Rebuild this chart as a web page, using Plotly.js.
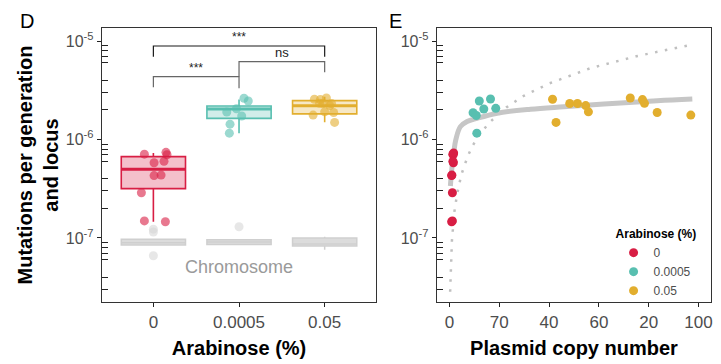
<!DOCTYPE html>
<html><head><meta charset="utf-8">
<script src="https://cdn.plot.ly/plotly-3.0.1.min.js"></script>
<style>html,body{margin:0;padding:0;background:#fff}#chart{width:721px;height:364px}</style>
</head><body><div id="chart"></div>
<script>
// ---------------- data ----------------
const categories = ['0', '0.0005', '0.05'];
const catPos = [0, 1, 2];

// Panel D - plasmid locus replicate rates, with horizontal jitter
const redRateD  = [7.1e-7, 7.4e-7, 7.0e-7, 5.8e-7, 6.0e-7, 4.3e-7, 4.35e-7, 2.88e-7, 1.49e-7, 1.46e-7];
const redJitD   = [-0.105, 0.147, 0.159, 0.008, 0.124, 0.008, 0.09, -0.14, -0.105, 0.14];
const tealRateD = [2.62e-6, 2.46e-6, 1.9e-6, 1.73e-6, 1.43e-6, 1.16e-6, 2.05e-6];
const tealJitD  = [0.058, 0.108, -0.143, 0.031, -0.105, -0.113, -0.03];
const goldRateD = [2.64e-6, 2.56e-6, 2.54e-6, 2.33e-6, 2.32e-6, 2.32e-6, 2.21e-6, 1.91e-6, 1.88e-6, 1.77e-6, 1.49e-6];
const goldJitD  = [0.02, -0.12, -0.05, -0.06, 0.08, -0.02, 0.06, 0.0, 0.105, -0.135, 0.116];

// Panel D - box statistics (plasmid)
const boxQ1     = [3.17e-7, 1.64e-6, 1.82e-6];
const boxMedian = [5.0e-7, 2.04e-6, 2.20e-6];
const boxQ3     = [6.7e-7, 2.19e-6, 2.48e-6];
const boxLow    = [1.46e-7, 1.16e-6, 1.50e-6];
const boxHigh   = [7.3e-7, 2.54e-6, 2.72e-6];

// Panel D - chromosome boxes
const chromQ1     = [8.5e-8, 8.6e-8, 8.3e-8];
const chromMedian = [8.97e-8, 9.1e-8, 8.7e-8];
const chromQ3     = [9.7e-8, 9.6e-8, 1.0e-7];
const chromLow    = [8.5e-8, 8.6e-8, 7.6e-8];
const chromHigh   = [9.7e-8, 9.6e-8, 1.03e-7];
const chromOutCat  = [0, 0, 0, 1];
const chromOutRate = [1.23e-7, 1.15e-7, 6.6e-8, 1.3e-7];

// Panel D - significance brackets
const bracketFrom  = [0, 1, 0];
const bracketTo    = [2, 2, 1];
const bracketY     = [8.9e-6, 6.16e-6, 4.35e-6];
const bracketTipL  = [6.93e-6, 4.35e-6, 3.39e-6];
const bracketTipR  = [6.93e-6, 4.81e-6, 3.32e-6];
const bracketLabel = ['***', 'ns', '***'];

// Panel E - rate vs plasmid copy number
const redCopyE  = [1.4, 1.7, 1.5, 1.6, 1.4, 0.9, 1.0, 1.2, 1.2, 0.9];
const redRateE  = [7.1e-7, 7.3e-7, 7.0e-7, 5.8e-7, 6.0e-7, 4.3e-7, 4.35e-7, 2.88e-7, 1.49e-7, 1.46e-7];
const tealCopyE = [12.0, 16.5, 13.8, 18.6, 9.5, 10.8, 11.0];
const tealRateE = [2.46e-6, 2.58e-6, 2.04e-6, 2.07e-6, 1.87e-6, 1.75e-6, 1.16e-6];
const goldCopyE = [72.6, 41.4, 77.5, 78.3, 48.3, 51.4, 54.7, 55.8, 83.4, 96.9, 42.8];
const goldRateE = [2.64e-6, 2.56e-6, 2.54e-6, 2.33e-6, 2.32e-6, 2.32e-6, 2.21e-6, 1.91e-6, 1.88e-6, 1.77e-6, 1.49e-6];

// Panel E - fitted saturating curve (solid) and proportional curve (dotted)
const fitCopy = [0.4, 0.8, 1.7, 2.6, 4.4, 7.1, 11.1, 19.2, 32.5, 45.9, 62, 83.4, 97.5];
const fitRate = [3.37e-7, 4.57e-7, 7.24e-7, 1.0e-6, 1.35e-6, 1.52e-6, 1.64e-6, 1.85e-6, 2.03e-6, 2.15e-6, 2.29e-6, 2.48e-6, 2.58e-6];
const linCopy = [0.3, 1, 2, 3.1, 4.8, 7.3, 9.1, 11.1, 13.8, 16.5, 22.9, 29.8, 40, 56.6, 75, 98];
const linRate = [2.85e-8, 9.3e-8, 1.85e-7, 2.8e-7, 4.4e-7, 6.7e-7, 8.45e-7, 1.03e-6, 1.27e-6, 1.52e-6, 2.12e-6, 2.77e-6, 3.7e-6, 5.3e-6, 7.0e-6, 9.25e-6];

// Axis ticks
const yMajor = [1e-7, 1e-6, 1e-5];
const yMajorText = ['10<sup>-7</sup>', '10<sup>-6</sup>', '10<sup>-5</sup>'];
const yMid = [5e-8, 5e-7, 5e-6];
const xTickValsE = [0, 20, 40, 60, 80, 100];
const xTickTextE = ['0', '70', '40', '60', '20', '100'];

// ---------------- style ----------------
const FONT = 'Liberation Sans, Arial, Helvetica, sans-serif';
const RED = '#D81E44', TEAL = '#58BFB0', GOLD = '#E2AE2E';
const colorList = [RED, TEAL, GOLD];
const fillList = ['rgba(216,30,68,0.28)', 'rgba(88,191,176,0.28)', 'rgba(226,174,46,0.28)'];
const BOXW = 0.75;

const yMinor = [];
[-8, -7, -6, -5].forEach(function (e) {
  [2, 3, 4, 6, 7, 8, 9].forEach(function (m) { yMinor.push(m * Math.pow(10, e)); });
});

const traces = [];

// chromosome boxes
for (let i = 0; i < 3; i++) {
  traces.push({
    type: 'box', x: [catPos[i]], q1: [chromQ1[i]], median: [chromMedian[i]], q3: [chromQ3[i]],
    lowerfence: [chromLow[i]], upperfence: [chromHigh[i]], width: BOXW, whiskerwidth: 0,
    boxpoints: false, line: {color: '#cfcfcf', width: 1.5}, fillcolor: 'rgba(205,205,205,0.7)',
    xaxis: 'x', yaxis: 'y', showlegend: false, hoverinfo: 'skip'
  });
}
traces.push({
  type: 'scatter', mode: 'markers', x: chromOutCat, y: chromOutRate,
  marker: {color: 'rgba(215,215,215,0.6)', size: 9}, xaxis: 'x', yaxis: 'y', showlegend: false, hoverinfo: 'skip'
});

// plasmid boxes
for (let i = 0; i < 3; i++) {
  traces.push({
    type: 'box', x: [catPos[i]], q1: [boxQ1[i]], median: [boxMedian[i]], q3: [boxQ3[i]],
    lowerfence: [boxLow[i]], upperfence: [boxHigh[i]], width: BOXW, whiskerwidth: 0,
    boxpoints: false, line: {color: colorList[i], width: 1.6}, fillcolor: fillList[i],
    xaxis: 'x', yaxis: 'y', showlegend: false, hoverinfo: 'skip'
  });
  // thicker median bar (ggplot style)
  traces.push({
    type: 'scatter', mode: 'lines',
    x: [catPos[i] - BOXW / 2, catPos[i] + BOXW / 2], y: [boxMedian[i], boxMedian[i]],
    line: {color: colorList[i], width: 3}, xaxis: 'x', yaxis: 'y', showlegend: false, hoverinfo: 'skip'
  });
}

// jittered points panel D
const dSets = [[redRateD, redJitD], [tealRateD, tealJitD], [goldRateD, goldJitD]];
dSets.forEach(function (s, i) {
  traces.push({
    type: 'scatter', mode: 'markers',
    x: s[1].map(function (j) { return catPos[i] + j; }), y: s[0],
    marker: {color: colorList[i], size: 9, opacity: 0.6},
    xaxis: 'x', yaxis: 'y', showlegend: false, hoverinfo: 'skip'
  });
});

// brackets
const bracketColors = ['#1a1a1a', '#666666', '#666666'];
for (let i = 0; i < bracketFrom.length; i++) {
  traces.push({
    type: 'scatter', mode: 'lines',
    x: [catPos[bracketFrom[i]], catPos[bracketFrom[i]], catPos[bracketTo[i]], catPos[bracketTo[i]]],
    y: [bracketTipL[i], bracketY[i], bracketY[i], bracketTipR[i]],
    line: {color: bracketColors[i], width: 1.2}, xaxis: 'x', yaxis: 'y', showlegend: false, hoverinfo: 'skip'
  });
}

// panel E curves
traces.push({
  type: 'scatter', mode: 'lines', x: linCopy, y: linRate,
  line: {color: '#c0c0c0', width: 2.5, dash: '2.5px,7.5px'}, xaxis: 'x2', yaxis: 'y2', showlegend: false, hoverinfo: 'skip'
});
traces.push({
  type: 'scatter', mode: 'lines', x: fitCopy, y: fitRate, line: {color: '#c6c6c6', width: 5, shape: 'spline'},
  xaxis: 'x2', yaxis: 'y2', showlegend: false, hoverinfo: 'skip'
});
const eSets = [[redCopyE, redRateE], [tealCopyE, tealRateE], [goldCopyE, goldRateE]];
eSets.forEach(function (s, i) {
  traces.push({
    type: 'scatter', mode: 'markers', name: categories[i], x: s[0], y: s[1],
    marker: {color: colorList[i], size: 9}, xaxis: 'x2', yaxis: 'y2', showlegend: true
  });
});

const yRange = [-7.65, -4.868];
function yAxisBase(extra) {
  return Object.assign({
    type: 'log', range: yRange, tickmode: 'array', tickvals: yMajor, ticktext: yMajorText,
    ticks: 'outside', ticklen: 4, tickwidth: 1, tickcolor: '#222',
    tickfont: {family: FONT, size: 16, color: '#4d4d4d'},
    showline: true, mirror: true, linecolor: '#333', linewidth: 1.3,
    showgrid: false, zeroline: false,
    minor: {tickmode: 'array', tickvals: yMinor, ticks: 'inside', ticklen: 6, tickwidth: 1, tickcolor: '#222', showgrid: false}
  }, extra);
}
function yMidAxis(overl, anchor) {
  return {
    type: 'log', range: yRange, overlaying: overl, anchor: anchor, side: 'left',
    tickmode: 'array', tickvals: yMid, ticks: 'inside', ticklen: 11, tickwidth: 1, tickcolor: '#222',
    showticklabels: false, showline: false, showgrid: false, zeroline: false
  };
}

const layout = {
  width: 721, height: 364,
  margin: {l: 102, r: 10, t: 28, b: 62},
  paper_bgcolor: '#fff', plot_bgcolor: '#fff',
  font: {family: FONT, color: '#000'},
  xaxis: {
    domain: [0, 0.45], range: [-0.6, 2.6], tickmode: 'array', tickvals: catPos, ticktext: categories,
    ticks: 'outside', ticklen: 4, tickcolor: '#222', tickfont: {family: FONT, size: 17, color: '#4d4d4d'},
    showline: true, mirror: true, linecolor: '#333', linewidth: 1.3, showgrid: false, zeroline: false,
    title: {text: '<b>Arabinose (%)</b>', font: {family: FONT, size: 20, color: '#000'}, standoff: 10},
    anchor: 'y'
  },
  yaxis: yAxisBase({
    anchor: 'x',
    title: {text: '<b>Mutations per generation<br>and locus</b>', font: {family: FONT, size: 20, color: '#000'}, standoff: 1}
  }),
  yaxis3: yMidAxis('y', 'x'),
  xaxis2: {
    domain: [0.55, 1], range: [-5, 105], tickmode: 'array', tickvals: xTickValsE, ticktext: xTickTextE,
    ticks: 'outside', ticklen: 4, tickcolor: '#222', tickfont: {family: FONT, size: 17, color: '#4d4d4d'},
    showline: true, mirror: true, linecolor: '#333', linewidth: 1.3, showgrid: false, zeroline: false,
    title: {text: '<b>Plasmid copy number</b>', font: {family: FONT, size: 20, color: '#000'}, standoff: 10},
    anchor: 'y2'
  },
  yaxis2: yAxisBase({anchor: 'x2'}),
  yaxis4: yMidAxis('y2', 'x2'),
  showlegend: true,
  legend: {
    x: 0.84, y: 0.29, xanchor: 'left', yanchor: 'top', bgcolor: 'rgba(0,0,0,0)',
    font: {family: FONT, size: 12, color: '#4d4d4d'}, tracegroupgap: 0, itemwidth: 30,
    title: {text: '<b>Arabinose (%)</b>', font: {family: FONT, size: 12, color: '#000'}}
  },
  annotations: [
    {xref: 'paper', yref: 'paper', x: -0.138, y: 1.025, xanchor: 'left', yanchor: 'middle',
     text: 'D', showarrow: false, font: {family: FONT, size: 20, color: '#000'}},
    {xref: 'paper', yref: 'paper', x: 0.468, y: 1.025, xanchor: 'left', yanchor: 'middle',
     text: 'E', showarrow: false, font: {family: FONT, size: 20, color: '#000'}},
    {xref: 'x', yref: 'y', x: 1, y: Math.log10(5.1e-8), text: 'Chromosome', showarrow: false,
     font: {family: FONT, size: 18, color: '#9a9a9a'}}
  ]
};
for (let i = 0; i < bracketFrom.length; i++) {
  layout.annotations.push({
    xref: 'x', yref: 'y', x: (catPos[bracketFrom[i]] + catPos[bracketTo[i]]) / 2, y: Math.log10(bracketY[i]),
    yanchor: 'bottom', text: bracketLabel[i], showarrow: false,
    font: {family: FONT, size: bracketLabel[i] === 'ns' ? 13 : 12, color: '#222'}
  });
}

Plotly.newPlot('chart', traces, layout, {staticPlot: true, displayModeBar: false});
</script>
</body></html>
